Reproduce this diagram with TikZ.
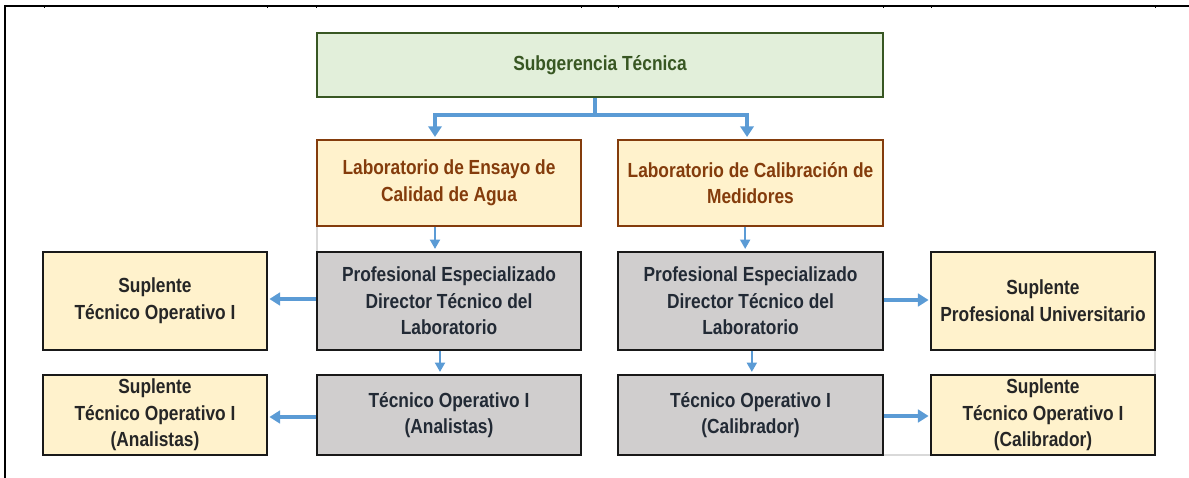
\documentclass[tikz,border=0pt]{standalone}
\usepackage{fontspec}
\setmainfont{Liberation Sans}[FakeStretch=0.85]
\usetikzlibrary{arrows.meta}
\definecolor{gfill}{HTML}{E2EFDA}
\definecolor{gdraw}{HTML}{385723}
\definecolor{yfill}{HTML}{FFF2CC}
\definecolor{bdraw}{HTML}{843C0C}
\definecolor{pfill}{HTML}{D0CECE}
\definecolor{ptext}{HTML}{222A35}
\definecolor{stext}{HTML}{262626}
\definecolor{arr}{HTML}{5B9BD5}
\definecolor{faint}{HTML}{D9D9D9}
\tikzset{
  base/.style={rectangle, line width=1.6pt, align=center, font=\fontsize{15.3}{20}\selectfont\bfseries, inner sep=0pt},
  topbox/.style={base, fill=gfill, draw=gdraw, text=gdraw},
  labbox/.style={base, fill=yfill, draw=bdraw, text=bdraw},
  graybox/.style={base, fill=pfill, draw=black!90, text=ptext},
  supbox/.style={base, fill=yfill, draw=black!90, text=stext},
  bigarr/.style={draw=arr, line width=3pt, -{Triangle[width=10pt,length=8pt]}},
  smallarr/.style={draw=arr, line width=1.5pt, -{Triangle[width=7.5pt,length=7pt]}},
  sidearr/.style={draw=arr, line width=3pt, -{Triangle[width=9.5pt,length=8pt]}},
}
\begin{document}
\begin{tikzpicture}[x=0.75pt,y=-0.75pt]
\useasboundingbox (0,0) rectangle (1189,478);
% frame
\draw[line width=2pt] (4,6) -- (1189,6);
\draw[line width=2pt] (5,5) -- (5,478);
\foreach \t in {44,267,316,581,618,883,931,1155} \draw[line width=0.6pt] (\t,6) -- (\t,8.5);
% faint grid remnants
\draw[faint, line width=1.2pt] (317,226) -- (317,252);
\draw[faint, line width=1.2pt] (1155,350) -- (1155,375);
\draw[faint, line width=1.2pt] (883,455) -- (931,455);
% nodes
\node[topbox, minimum width=424.5pt, minimum height=48pt] (sub) at (600,65) {Subgerencia Técnica};
\node[labbox, minimum width=198pt, minimum height=64.5pt] (labA) at (449,183) {Laboratorio de Ensayo de\\Calidad de Agua};
\node[labbox, minimum width=198.75pt, minimum height=64.5pt] (labB) at (750.5,183) {Laboratorio de Calibración de\\Medidores};
\node[graybox, minimum width=198pt, minimum height=73.5pt] (profA) at (449,301) {Profesional Especializado\\Director Técnico del\\Laboratorio};
\node[graybox, minimum width=198.75pt, minimum height=73.5pt] (profB) at (750.5,301) {Profesional Especializado\\Director Técnico del\\Laboratorio};
\node[supbox, minimum width=168pt, minimum height=73.5pt] (supA) at (155,301) {Suplente\\Técnico Operativo I};
\node[supbox, minimum width=168pt, minimum height=73.5pt] (supB) at (1043,301) {Suplente\\Profesional Universitario};
\node[graybox, minimum width=198pt, minimum height=60pt] (toA) at (449,415) {Técnico Operativo I\\(Analistas)};
\node[graybox, minimum width=198.75pt, minimum height=60pt] (toB) at (750.5,415) {Técnico Operativo I\\(Calibrador)};
\node[supbox, minimum width=168pt, minimum height=60pt] (supC) at (155,415) {Suplente\\Técnico Operativo I\\(Analistas)};
\node[supbox, minimum width=168pt, minimum height=60pt] (supD) at (1043,415) {Suplente\\Técnico Operativo I\\(Calibrador)};
% connectors
\coordinate (elbow) at ([xshift=-3.75pt,yshift=-12.75pt]sub.south);
\draw[draw=arr, line width=3pt] ([xshift=-3.75pt]sub.south) -- (elbow);
\draw[bigarr] ([xshift=1.5pt]elbow) -| ([xshift=-10.5pt,yshift=1.5pt]labA.north);
\draw[bigarr] ([xshift=-1.5pt]elbow) -| ([xshift=-2.6pt,yshift=1.5pt]labB.north);
\draw[smallarr] ([xshift=-10.5pt]labA.south) -- ([xshift=-10.5pt,yshift=1.5pt]profA.north);
\draw[smallarr] ([xshift=-4pt]labB.south) -- ([xshift=-4pt,yshift=1.5pt]profB.north);
\draw[smallarr] ([xshift=-6.75pt]profA.south) -- ([xshift=-6.75pt,yshift=1.5pt]toA.north);
\draw[smallarr] ([xshift=1pt]profB.south) -- ([xshift=1pt,yshift=1.5pt]toB.north);
\draw[sidearr] ([yshift=1.5pt]profA.west) -- ([xshift=1pt,yshift=1.5pt]supA.east);
\draw[sidearr] ([yshift=-1.5pt]toA.west) -- ([xshift=1pt,yshift=-1.5pt]supC.east);
\draw[sidearr] ([yshift=0.75pt]profB.east) -- ([xshift=-1pt,yshift=0.75pt]supB.west);
\draw[sidearr] ([yshift=-0.75pt]toB.east) -- ([xshift=-1pt,yshift=-0.75pt]supD.west);
\end{tikzpicture}
\end{document}
